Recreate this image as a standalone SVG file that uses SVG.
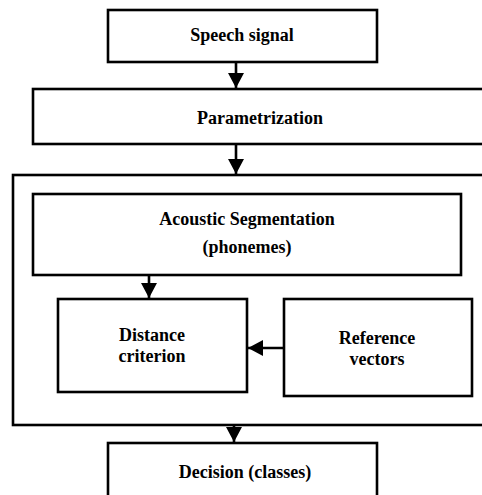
<svg xmlns="http://www.w3.org/2000/svg" width="482" height="495" viewBox="0 0 482 495">
<style>
.box{fill:#fff;stroke:#000;stroke-width:2.6}
.frame{fill:none;stroke:#000;stroke-width:2.6}
.lbl{font-family:'Liberation Serif','Times New Roman',Times,'DejaVu Serif',serif;font-weight:bold;font-size:18px;fill:#000;text-anchor:middle}
.con{stroke:#000;stroke-width:2.6;fill:none;marker-end:url(#ah)}
</style>
<defs>
<marker id="ah" markerUnits="userSpaceOnUse" markerWidth="16" markerHeight="16" viewBox="0 0 16 16" refX="15" refY="8" orient="auto">
<path d="M0,0 L15,8 L0,16 Z" fill="#000"/>
</marker>
</defs>
<rect width="482" height="495" fill="#fff"/>
<g id="outer-frame"><rect class="frame" x="13" y="175" width="475" height="250"/></g>
<g id="speech-signal"><rect class="box" x="108" y="10" width="269" height="52"/><text class="lbl" x="242" y="41">Speech signal</text></g>
<g id="parametrization"><rect class="box" x="33" y="89" width="452" height="55"/><text class="lbl" x="260" y="124">Parametrization</text></g>
<g id="acoustic-segmentation"><rect class="box" x="33" y="194" width="428" height="81"/><text class="lbl" x="247" y="225">Acoustic Segmentation</text><text class="lbl" x="247" y="253">(phonemes)</text></g>
<g id="distance-criterion"><rect class="box" x="58" y="299" width="189" height="93"/><text class="lbl" x="152" y="341">Distance</text><text class="lbl" x="152" y="362">criterion</text></g>
<g id="reference-vectors"><rect class="box" x="284" y="299" width="188" height="97"/><text class="lbl" x="377" y="344">Reference</text><text class="lbl" x="377" y="365">vectors</text></g>
<g id="decision"><rect class="box" x="108" y="443" width="269" height="60"/><text class="lbl" x="245" y="478">Decision (classes)</text></g>
<g id="connectors">
<line class="con" x1="236" y1="62" x2="236" y2="88"/>
<line class="con" x1="236" y1="144" x2="236" y2="174"/>
<line class="con" x1="149" y1="275" x2="149" y2="298"/>
<line class="con" x1="284" y1="348" x2="248" y2="348"/>
<line class="con" x1="234" y1="425" x2="234" y2="442"/>
</g>
</svg>
